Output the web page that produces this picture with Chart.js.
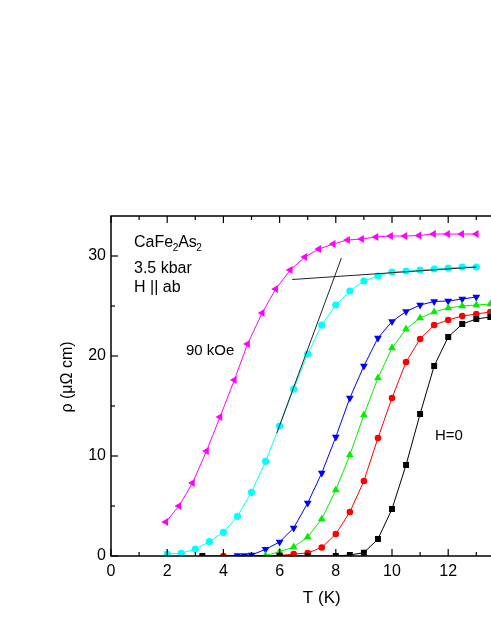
<!DOCTYPE html>
<html><head><meta charset="utf-8">
<script src="https://cdn.jsdelivr.net/npm/chart.js@4.4.0/dist/chart.umd.min.js"></script>
<style>
html,body{margin:0;padding:0;background:#fff;overflow:hidden}
#wrap{width:491px;height:635px;overflow:hidden;position:relative;background:#fff}
canvas{display:block}
</style></head><body>
<div id="wrap"><canvas id="c" width="560" height="635"></canvas></div>
<script>
// ---- data ----
const T_90kOe   = [1.95,2.42,2.9,3.4,3.88,4.39,4.86,5.38,5.86,6.38,6.9,7.4,7.91,8.42,8.92,9.43,9.95,10.46,10.96,11.48,11.98,12.48,13.0];
const rho_90kOe = [3.4,5.0,7.3,10.5,13.9,17.6,21.2,24.3,26.7,28.6,29.9,30.7,31.2,31.6,31.7,31.9,32.0,32.0,32.05,32.2,32.2,32.2,32.2];

const T_cyan    = [2.0,2.5,3.0,3.5,4.0,4.5,5.0,5.5,6.0,6.5,7.0,7.5,8.0,8.5,9.0,9.5,10.0,10.5,11.0,11.5,12.0,12.5,13.0];
const rho_cyan  = [0.2,0.27,0.7,1.43,2.37,3.97,6.37,9.47,13.0,16.7,20.2,23.1,25.1,26.5,27.5,28.0,28.4,28.5,28.6,28.7,28.8,28.9,28.9];

const T_blue    = [4.5,4.75,5.0,5.5,6.0,6.5,7.0,7.5,8.0,8.5,9.0,9.5,10.0,10.5,11.0,11.5,12.0,12.5,13.0];
const rho_blue  = [0.05,0.05,0.1,0.67,1.4,2.8,5.3,8.3,11.9,15.8,19.0,21.8,23.45,24.45,25.1,25.45,25.5,25.7,25.9];

const T_green   = [5.5,6.0,6.5,7.0,7.5,8.0,8.5,9.0,9.5,10.0,10.5,11.0,11.5,12.0,12.5,13.0,13.5];
const rho_green = [0.05,0.43,0.9,1.9,3.7,6.6,10.1,14.1,17.8,20.8,22.7,23.8,24.4,24.8,25.0,25.1,25.2];

const T_red     = [4.0,6.0,6.5,7.0,7.5,8.0,8.5,9.0,9.5,10.0,10.5,11.0,11.5,12.0,12.5,13.0,13.5];
const rho_red   = [0.0,0.05,0.2,0.3,0.85,2.2,4.4,7.5,11.8,15.8,19.4,21.7,23.1,23.6,24.0,24.2,24.4];

const T_H0      = [3.25,6.0,7.0,8.0,8.5,9.0,9.5,10.0,10.5,11.0,11.5,12.0,12.5,13.0,13.5];
const rho_H0    = [0.0,0.0,0.0,0.0,0.1,0.33,1.7,4.7,9.1,14.2,19.0,21.9,23.2,23.7,23.9];

const T_tangentSteep   = [5.9,8.2];
const rho_tangentSteep = [12.3,29.8];
const T_tangentFlat    = [6.45,13.0];
const rho_tangentFlat  = [27.65,28.9];

const xTickValues = [0,2,4,6,8,10,12];
const yTickValues = [0,10,20,30];

// ---- helpers ----
const pts = (xs, ys) => xs.map((t, i) => ({x: t, y: ys[i]}));
const FONT = "'Liberation Sans', Arial, Helvetica, sans-serif";

function series(xs, ys, color, style, rot, r) {
  return {
    data: pts(xs, ys), borderColor: color, backgroundColor: color,
    borderWidth: 1, pointStyle: style, pointRotation: rot, pointRadius: r,
    pointBorderWidth: 0, pointHoverRadius: r, tension: 0
  };
}
function straight(xs, ys) {
  return { data: pts(xs, ys), borderColor: '#222', borderWidth: 1, pointRadius: 0, tension: 0 };
}

const framePlugin = {
  id: 'frame',
  afterDatasetsDraw(chart) {
    const {ctx, chartArea: a, scales: {x, y}} = chart;
    ctx.save();
    ctx.strokeStyle = '#000';
    ctx.lineWidth = 1.5;
    ctx.strokeRect(a.left, a.top, a.right - a.left, a.bottom - a.top);
    ctx.lineWidth = 1.2;
    const seg = (x1, y1, x2, y2) => { ctx.beginPath(); ctx.moveTo(x1, y1); ctx.lineTo(x2, y2); ctx.stroke(); };
    // x ticks (major every 2, minor every 1)
    for (let v = x.min; v <= x.max; v += 1) {
      const px = x.getPixelForValue(v);
      const L = (v % 2 === 0) ? 7 : 4;
      seg(px, a.bottom, px, a.bottom - L);
      seg(px, a.top, px, a.top + L);
    }
    // y ticks (major every 10, minor every 5)
    for (let v = y.min; v <= y.max; v += 5) {
      const py = y.getPixelForValue(v);
      const L = (v % 10 === 0) ? 7 : 4;
      seg(a.left, py, a.left + L, py);
      seg(a.right, py, a.right - L, py);
    }
    ctx.restore();
  },
  afterDraw(chart) {
    const {ctx} = chart;
    ctx.save();
    ctx.fillStyle = '#000';
    ctx.textBaseline = 'alphabetic';
    // Y axis title (rotated)
    ctx.save();
    ctx.translate(72, 377);
    ctx.rotate(-Math.PI / 2);
    ctx.textAlign = 'center';
    ctx.font = '16px ' + FONT;
    ctx.fillText('ρ (μΩ cm)', 0, 0);
    ctx.restore();
    // CaFe2As2 with subscripts
    ctx.textAlign = 'left';
    const parts = [['CaFe', 16, 0], ['2', 10, 3.5], ['As', 16, 0], ['2', 10, 3.5]];
    let cx = 134;
    for (const [s, fs, dy] of parts) {
      ctx.font = fs + 'px ' + FONT;
      ctx.fillText(s, cx, 247 + dy);
      cx += ctx.measureText(s).width - (fs === 10 ? 0 : 0.5);
    }
    ctx.font = '16px ' + FONT;
    ctx.fillText('3.5 kbar', 134, 273);
    ctx.fillText('H || ab', 134, 292);
    ctx.font = '15px ' + FONT;
    ctx.fillText('90 kOe', 186, 355);
    ctx.fillText('H=0', 435, 440);
    ctx.restore();
  }
};

const chart = new Chart(document.getElementById('c'), {
  type: 'line',
  data: {
    datasets: [
      straight(T_tangentSteep, rho_tangentSteep),
      straight(T_tangentFlat, rho_tangentFlat),
      series(T_H0, rho_H0, '#000000', 'rect', 0, 4.2),
      series(T_red, rho_red, '#ff0000', 'circle', 0, 3.3),
      series(T_green, rho_green, '#00ee00', 'triangle', 0, 4.5),
      series(T_blue, rho_blue, '#0000ff', 'triangle', 180, 4.5),
      series(T_cyan, rho_cyan, '#00ffff', 'circle', 0, 3.6),
      series(T_90kOe, rho_90kOe, '#ff00ff', 'triangle', 270, 4.5)
    ]
  },
  options: {
    responsive: false,
    animation: false,
    devicePixelRatio: 1,
    layout: { padding: { top: 216, right: 27.5, left: 0, bottom: 0 } },
    plugins: { legend: { display: false }, tooltip: { enabled: false } },
    scales: {
      x: {
        type: 'linear', min: 0, max: 15,
        grid: { display: false, drawTicks: false },
        border: { display: false },
        ticks: {
          stepSize: 2, includeBounds: false, padding: 6, color: '#000',
          font: { family: FONT, size: 16 },
          callback: (v) => xTickValues.includes(v) ? String(v) : ''
        },
        title: { display: true, text: 'T (K)', color: '#000', font: { family: FONT, size: 17 }, padding: { top: 0, bottom: 26 } },
        afterFit: (s) => { s.height = 79; }
      },
      y: {
        type: 'linear', min: 0, max: 34,
        grid: { display: false, drawTicks: false },
        border: { display: false },
        ticks: {
          stepSize: 10, includeBounds: false, padding: 5, color: '#000',
          font: { family: FONT, size: 16 },
          callback: (v) => yTickValues.includes(v) ? String(v) : ''
        },
        afterFit: (s) => { s.width = 111; }
      }
    }
  },
  plugins: [framePlugin]
});
</script>
</body></html>
